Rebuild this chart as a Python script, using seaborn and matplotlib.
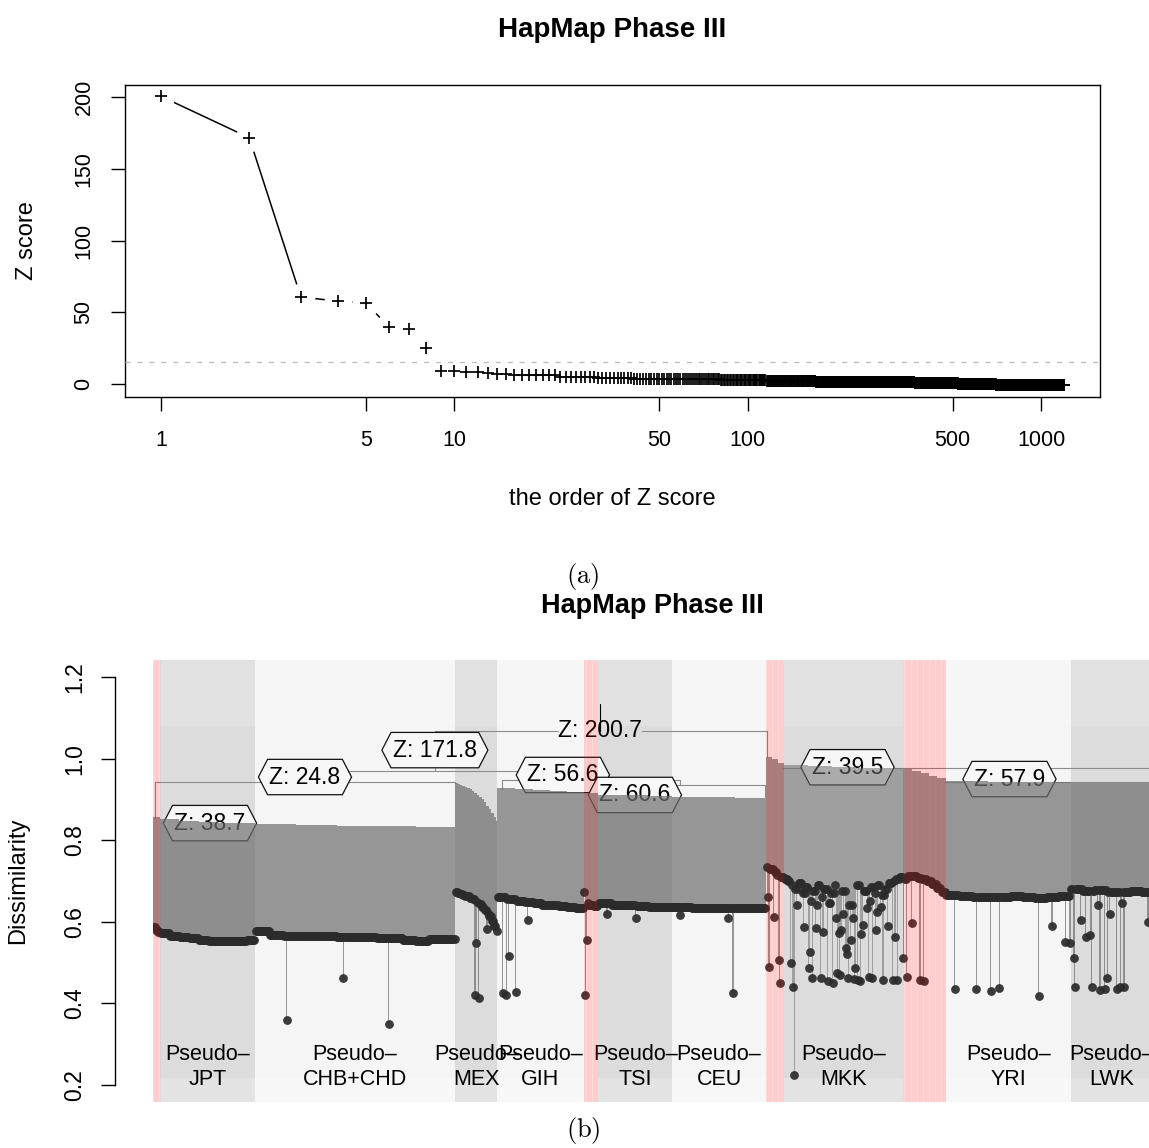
import numpy as np
import pandas as pd
import matplotlib
matplotlib.use("Agg")
import matplotlib.pyplot as plt
from matplotlib.path import Path
from matplotlib.ticker import NullLocator
import seaborn as sns

# ---------------------------------------------------------------
# (a) Z scores of all tree nodes, in decreasing order
# ---------------------------------------------------------------
z_leading = [200.7, 171.8, 60.6, 57.9, 56.6, 39.5, 38.7, 24.8,
             9.4, 9.3, 8.7, 8.6, 7.4, 7.3, 7.2]
# the long tail, given as level / number of nodes at that level
z_tail_levels = [6.0, 5.2, 4.5, 3.8, 3.2, 2.6, 2.1, 1.6, 1.1, 0.6, 0.1, -0.5, -1.0]
z_tail_counts = [7, 8, 10, 15, 25, 35, 55, 80, 120, 150, 180, 250, 250]
z_cutoff = 15.0
z_xticks = [1, 5, 10, 50, 100, 500, 1000]
z_yticks = [0, 50, 100, 150, 200]

# ---------------------------------------------------------------
# (b) dendrogram leaves, grouped into pseudo-populations
# ---------------------------------------------------------------
group_names = ["", "JPT", "CHB+CHD", "MEX", "GIH", "", "TSI", "CEU",
               "", "MKK", "", "YRI", "LWK"]
group_sizes = [6, 79, 167, 35, 72, 12, 62, 78, 15, 99, 36, 104, 68]
group_flagged = [True, False, False, False, False, True, False, False,
                 True, False, True, False, False]

# leaf dissimilarity (the dots), left to right, in equal runs
dots_flag1 = [0.588, 0.580, 0.575]
dots_jpt = [0.572, 0.566, 0.562, 0.559, 0.556, 0.554, 0.552, 0.552, 0.553, 0.555]
dots_chb = [0.578, 0.567, 0.566, 0.565, 0.565, 0.564, 0.563, 0.562, 0.562,
            0.561, 0.560, 0.556, 0.552, 0.557, 0.558]
dots_mex = [0.672, 0.670, 0.668, 0.666, 0.664, 0.662, 0.659, 0.656, 0.652, 0.648,
            0.643, 0.637, 0.630, 0.622, 0.613, 0.602, 0.590, 0.578]
dots_gih = [0.660, 0.655, 0.650, 0.648, 0.645, 0.642, 0.640, 0.638, 0.636, 0.635]
dots_flag2 = [0.645, 0.640, 0.638]
dots_tsi = [0.645, 0.642, 0.640, 0.638, 0.636, 0.636]
dots_ceu = [0.636, 0.635, 0.634, 0.634, 0.633]
dots_flag3 = [0.735, 0.730, 0.722, 0.715, 0.710]
dots_mkk = [0.705, 0.700, 0.690, 0.680, 0.695, 0.670, 0.685, 0.650, 0.675, 0.690,
            0.660, 0.680, 0.645, 0.670, 0.690, 0.655, 0.675, 0.665, 0.640, 0.680,
            0.690, 0.660, 0.675, 0.650, 0.685, 0.670, 0.690, 0.665, 0.680, 0.695,
            0.700, 0.705, 0.710]
dots_flag4 = [0.705, 0.712, 0.712, 0.708, 0.704, 0.700, 0.693, 0.683, 0.672]
dots_yri = [0.665, 0.662, 0.660, 0.660, 0.660, 0.662, 0.660, 0.658, 0.660, 0.662]
dots_lwk = [0.680, 0.676, 0.678, 0.674, 0.672, 0.676, 0.674]

# height at which each leaf joins the tree, in equal runs
tops_flag1 = [0.856]
tops_jpt = [0.852, 0.848, 0.845, 0.843, 0.842]
tops_chb = [0.840, 0.838, 0.836, 0.834, 0.832]
tops_mex = [0.940, 0.938, 0.936, 0.934, 0.931, 0.928, 0.925, 0.921, 0.917, 0.912,
            0.906, 0.900, 0.893, 0.885, 0.876, 0.866, 0.856, 0.848]
tops_gih = [0.928, 0.925, 0.922, 0.920, 0.918]
tops_flag2 = [0.915]
tops_tsi = [0.912, 0.910, 0.908]
tops_ceu = [0.907, 0.905, 0.903]
tops_flag3 = [1.005, 0.998, 0.990]
tops_mkk = [0.985, 0.982, 0.980, 0.978, 0.977]
tops_flag4 = [0.975, 0.970, 0.965, 0.958, 0.952]
tops_yri = [0.945, 0.943, 0.942]
tops_lwk = [0.941, 0.940]

# individual leaves far from their group: (position in group, dissimilarity)
odd_flag1 = []
odd_jpt = []
odd_chb = [(26, 0.359), (73, 0.462), (111, 0.349)]
odd_mex = [(16, 0.420), (17, 0.548), (19, 0.413), (26, 0.582)]
odd_gih = [(4, 0.425), (7, 0.420), (9, 0.516), (15, 0.428), (25, 0.604)]
odd_flag2 = [(0, 0.673), (1, 0.420), (2, 0.555)]
odd_tsi = [(7, 0.620), (31, 0.610)]
odd_ceu = [(6, 0.617), (46, 0.610), (50, 0.425)]
odd_flag3 = [(1, 0.660), (2, 0.490), (6, 0.612), (10, 0.506), (11, 0.450)]
odd_mkk = [(5, 0.499), (7, 0.440), (8, 0.225), (10, 0.640), (16, 0.587),
           (20, 0.487), (21, 0.526), (23, 0.462), (26, 0.585), (27, 0.640),
           (30, 0.462), (32, 0.575), (36, 0.455), (40, 0.450), (43, 0.610),
           (44, 0.474), (45, 0.572), (46, 0.470), (47, 0.580), (49, 0.620),
           (51, 0.536), (52, 0.520), (53, 0.462), (55, 0.555), (57, 0.610),
           (58, 0.460), (59, 0.487), (61, 0.458), (63, 0.455), (64, 0.570),
           (65, 0.592), (69, 0.635), (70, 0.465), (73, 0.462), (76, 0.580),
           (77, 0.625), (80, 0.636), (82, 0.458), (86, 0.590), (90, 0.458),
           (92, 0.563), (94, 0.458)]
odd_flag4 = [(0, 0.510), (3, 0.465), (7, 0.597), (14, 0.458), (17, 0.455)]
odd_yri = [(7, 0.435), (25, 0.435), (37, 0.430), (44, 0.437), (77, 0.418),
           (88, 0.590), (99, 0.550), (103, 0.548)]
odd_lwk = [(2, 0.510), (3, 0.440), (8, 0.604), (12, 0.563), (16, 0.567),
           (17, 0.440), (22, 0.640), (24, 0.433), (28, 0.435), (30, 0.462),
           (32, 0.620), (38, 0.435), (41, 0.440), (42, 0.646), (44, 0.440),
           (64, 0.600)]

# labelled tree nodes: Z score, leaf position, height
node_text = ["Z: 38.7", "Z: 24.8", "Z: 171.8", "Z: 56.6", "Z: 60.6", "Z: 39.5", "Z: 57.9"]
node_pos = [47.5, 126.7, 235.0, 341.7, 401.7, 579.0, 714.0]
node_height = [0.842, 0.955, 1.021, 0.960, 0.911, 0.979, 0.950]
root_text = "Z: 200.7"
root_pos = 372.5
root_height = 1.068

# upper tree edges: horizontal (from, to, height) and vertical (at, low, high)
edge_h = [(1.7, 251.7, 0.943), (126.7, 343.0, 0.970), (291.0, 439.0, 0.947),
          (370.0, 510.0, 0.935), (525.0, 837.0, 0.978), (660.0, 837.0, 0.943)]
edge_v = [(1.7, 0.855, 0.943), (251.7, 0.940, 0.943), (126.7, 0.943, 0.970),
          (235.0, 0.970, 1.068), (511.7, 1.005, 1.068), (291.0, 0.925, 0.947),
          (343.0, 0.947, 0.970), (370.0, 0.912, 0.935), (510.0, 0.905, 0.935),
          (439.0, 0.935, 0.947)]
root_span = (235.0, 511.7)
root_stem_top = 1.135

diss_ticks = [0.2, 0.4, 0.6, 0.8, 1.0, 1.2]

# ---------------------------------------------------------------
sns.set_style("white")
plt.rcParams["font.family"] = ["Liberation Sans", "DejaVu Sans"]
plt.rcParams["mathtext.fontset"] = "cm"
plt.rcParams["axes.linewidth"] = 1.0
for key in ["text.color", "axes.labelcolor", "xtick.color", "ytick.color",
            "axes.edgecolor"]:
    plt.rcParams[key] = "black"

W, H = 1149, 1148
fig = plt.figure(figsize=(W / 100, H / 100), dpi=100)


def frac_box(left, top, right, bottom):
    return [left / W, 1 - bottom / H, (right - left) / W, (bottom - top) / H]


ax_a = fig.add_axes(frac_box(125, 85, 1100, 397))
ax_b = fig.add_axes(frac_box(153, 660, 1157, 1102))

# ---------------- panel (a) ----------------
z_values = np.concatenate([z_leading, np.repeat(z_tail_levels, z_tail_counts)])
df_z = pd.DataFrame({"rank": np.arange(1, len(z_values) + 1), "z": z_values})

sns.lineplot(data=df_z, x="rank", y="z", ax=ax_a, color="black", lw=1.1,
             estimator=None, sort=False, zorder=1)
# blank discs around the points give the broken "b"-type line
sns.scatterplot(data=df_z, x="rank", y="z", ax=ax_a, s=400, color="white",
                linewidth=0, zorder=1.5, legend=False)
ax_a.axhline(z_cutoff, color="#bdbdbd", lw=1.0, ls=(0, (3.6, 5.0)), zorder=3)
sns.scatterplot(data=df_z, x="rank", y="z", ax=ax_a, marker="+", s=80,
                color="black", linewidth=1.25, zorder=4, legend=False)

ax_a.set_xscale("log")
ax_a.set_xlim(0.754, 1589)
ax_a.set_ylim(-9.07, 208.6)
ax_a.set_xticks(z_xticks)
ax_a.set_xticklabels([str(t) for t in z_xticks])
ax_a.xaxis.set_minor_locator(NullLocator())
ax_a.set_yticks(z_yticks)
ax_a.set_yticklabels([str(t) for t in z_yticks], rotation=90, va="center")
ax_a.tick_params(axis="both", direction="out", length=10, width=1.0,
                 labelsize=15.5, color="black", labelcolor="black",
                 bottom=True, left=True)
ax_a.tick_params(axis="x", pad=14)
ax_a.tick_params(axis="y", pad=12)
for s in ax_a.spines.values():
    s.set_color("black")
    s.set_linewidth(1.0)
ax_a.set_xlabel("the order of Z score", fontsize=17, va="baseline", color="black")
ax_a.xaxis.set_label_coords(0.5, (397 - 505) / 312)
ax_a.set_ylabel("Z score", fontsize=17, va="baseline", color="black")
ax_a.yaxis.set_label_coords((33 - 125) / 975, 0.5)

fig.text(612.5 / W, 1 - 37 / H, "HapMap Phase III", ha="center", va="baseline",
         fontsize=20, fontweight="bold", color="black")
fig.text(583 / W, 1 - 576 / H, r"$\mathrm{(a)}$", ha="center", va="center",
         fontsize=19, color="black")

# ---------------- panel (b) ----------------
dots_all = [dots_flag1, dots_jpt, dots_chb, dots_mex, dots_gih, dots_flag2, dots_tsi,
            dots_ceu, dots_flag3, dots_mkk, dots_flag4, dots_yri, dots_lwk]
tops_all = [tops_flag1, tops_jpt, tops_chb, tops_mex, tops_gih, tops_flag2, tops_tsi,
            tops_ceu, tops_flag3, tops_mkk, tops_flag4, tops_yri, tops_lwk]
odd_all = [odd_flag1, odd_jpt, odd_chb, odd_mex, odd_gih, odd_flag2, odd_tsi,
           odd_ceu, odd_flag3, odd_mkk, odd_flag4, odd_yri, odd_lwk]


def runs(levels, n):
    out = np.empty(n)
    for idx, v in zip(np.array_split(np.arange(n), len(levels)), levels):
        out[idx] = v
    return out


edges = np.concatenate([[0], np.cumsum(group_sizes)])
n_leaves = int(edges[-1])
leaf_d = np.empty(n_leaves)
leaf_t = np.empty(n_leaves)
leaf_flag = np.zeros(n_leaves, dtype=bool)
for g, n in enumerate(group_sizes):
    a, b = edges[g], edges[g + 1]
    d = runs(dots_all[g], n)
    for k, v in odd_all[g]:
        d[k] = v
    leaf_d[a:b] = d
    leaf_t[a:b] = runs(tops_all[g], n)
    leaf_flag[a:b] = group_flagged[g]

x_max = 837
y_lo, y_hi = 0.158, 1.242
ax_b.set_xlim(0, x_max)
ax_b.set_ylim(y_lo, y_hi)

# background bands, alternating for the pseudo-populations
band_dark, band_light = "#dcdcdc", "#f5f5f5"
shade = 0
for g, n in enumerate(group_sizes):
    a, b = edges[g], edges[g + 1]
    if g == len(group_sizes) - 1:
        b = x_max
    if group_flagged[g]:
        col = "white"
    else:
        col = band_dark if shade % 2 == 0 else band_light
        shade += 1
    ax_b.axvspan(a, b, color=col, lw=0, zorder=0)
ax_b.axhspan(1.08, y_hi, color="white", alpha=0.15, lw=0, zorder=0.2)
ax_b.axhspan(y_lo, 0.217, color="white", alpha=0.22, lw=0, zorder=0.2)


def hexagon(x0, y0, width, height, mutation_size):
    px, py = 0.08 * mutation_size, 0.27 * mutation_size
    tip = 0.4 * mutation_size
    x0, y0 = x0 - px, y0 - py
    w, h = width + 2 * px, height + 2 * py
    verts = [(x0, y0), (x0 + w, y0), (x0 + w + tip, y0 + h / 2), (x0 + w, y0 + h),
             (x0, y0 + h), (x0 - tip, y0 + h / 2), (x0, y0)]
    return Path(verts, closed=True)


for txt, xp, yp in zip(node_text, node_pos, node_height):
    ax_b.text(xp, yp, txt, ha="center", va="center", fontsize=16.5, zorder=1.8,
              color="black",
              bbox=dict(boxstyle=hexagon, fc="#f7f7f7", ec="#111111", lw=0.9))

link_col = "#8c8c8c"
for x0, x1, yh in edge_h:
    ax_b.plot([x0, x1], [yh, yh], color=link_col, lw=0.8, zorder=1.5)
for xv, y0, y1 in edge_v:
    ax_b.plot([xv, xv], [y0, y1], color=link_col, lw=0.8, zorder=1.5)

# leaf stems: one step polygon per group
for g, n in enumerate(group_sizes):
    a, b = edges[g], edges[g + 1]
    xs = np.arange(a, b + 1)
    lo = np.append(leaf_d[a:b], leaf_d[b - 1])
    hi = np.append(leaf_t[a:b], leaf_t[b - 1])
    alpha = 0.55 if group_names[g] == "MKK" else 0.7
    ax_b.fill_between(xs, lo, hi, step="post", color="#6e6e6e", alpha=alpha,
                      lw=0, zorder=2)

df_leaf = pd.DataFrame({"leaf": np.arange(n_leaves) + 0.5, "diss": leaf_d})
sns.scatterplot(data=df_leaf, x="leaf", y="diss", ax=ax_b, s=40, color="#2b2b2b",
                alpha=0.92, linewidth=0, zorder=3, legend=False)

# flagged individuals: a translucent red wash plus one faint line per leaf
for g, n in enumerate(group_sizes):
    if group_flagged[g]:
        ax_b.axvspan(edges[g], edges[g + 1], color="red", alpha=0.15, lw=0, zorder=6)
flag_x = np.arange(n_leaves)[leaf_flag] + 0.5
ax_b.vlines(flag_x, y_lo, y_hi, color="red", alpha=0.07, lw=0.5, zorder=6)

# group names
for g, n in enumerate(group_sizes):
    if group_names[g]:
        cx = (edges[g] + edges[g + 1]) / 2
        ax_b.text(cx, 0.244, "Pseudo\u2013\n" + group_names[g], ha="center",
                  va="center", fontsize=15.5, linespacing=1.22, zorder=5,
                  color="black")

# root node: label, broken root edge and stem
root_lbl = ax_b.text(root_pos, root_height, root_text, ha="center", va="center",
                     fontsize=16.5, zorder=5, color="black")
fig.canvas.draw()
bb = root_lbl.get_window_extent().transformed(ax_b.transData.inverted())
ax_b.plot([root_span[0], bb.x0], [root_height, root_height], color=link_col, lw=0.8, zorder=1.5)
ax_b.plot([bb.x1, root_span[1]], [root_height, root_height], color=link_col, lw=0.8, zorder=1.5)
ax_b.plot([root_pos, root_pos], [root_height, root_stem_top], color="black", lw=0.8, zorder=5)

for side in ["top", "right", "bottom"]:
    ax_b.spines[side].set_visible(False)
ax_b.spines["left"].set_position(("outward", 38 * 0.72))
ax_b.spines["left"].set_bounds(diss_ticks[0], diss_ticks[-1])
ax_b.spines["left"].set_color("black")
ax_b.set_xticks([])
ax_b.set_yticks(diss_ticks)
ax_b.set_yticklabels([f"{t:.1f}" for t in diss_ticks], rotation=90, va="center")
ax_b.tick_params(axis="y", direction="out", length=10, width=1.0, labelsize=16.5,
                 pad=11, left=True, color="black", labelcolor="black")
ax_b.set_xlabel("")
ax_b.set_ylabel("Dissimilarity", fontsize=17, va="baseline", color="black")
ax_b.yaxis.set_label_coords((24 - 153) / 1004, 0.5)

fig.text(652 / W, 1 - 613 / H, "HapMap Phase III", ha="center", va="baseline",
         fontsize=19.5, fontweight="bold", color="black")
fig.text(583 / W, 1 - 1131 / H, r"$\mathrm{(b)}$", ha="center", va="center",
         fontsize=19, color="black")

fig.savefig("out.png", dpi=100)
